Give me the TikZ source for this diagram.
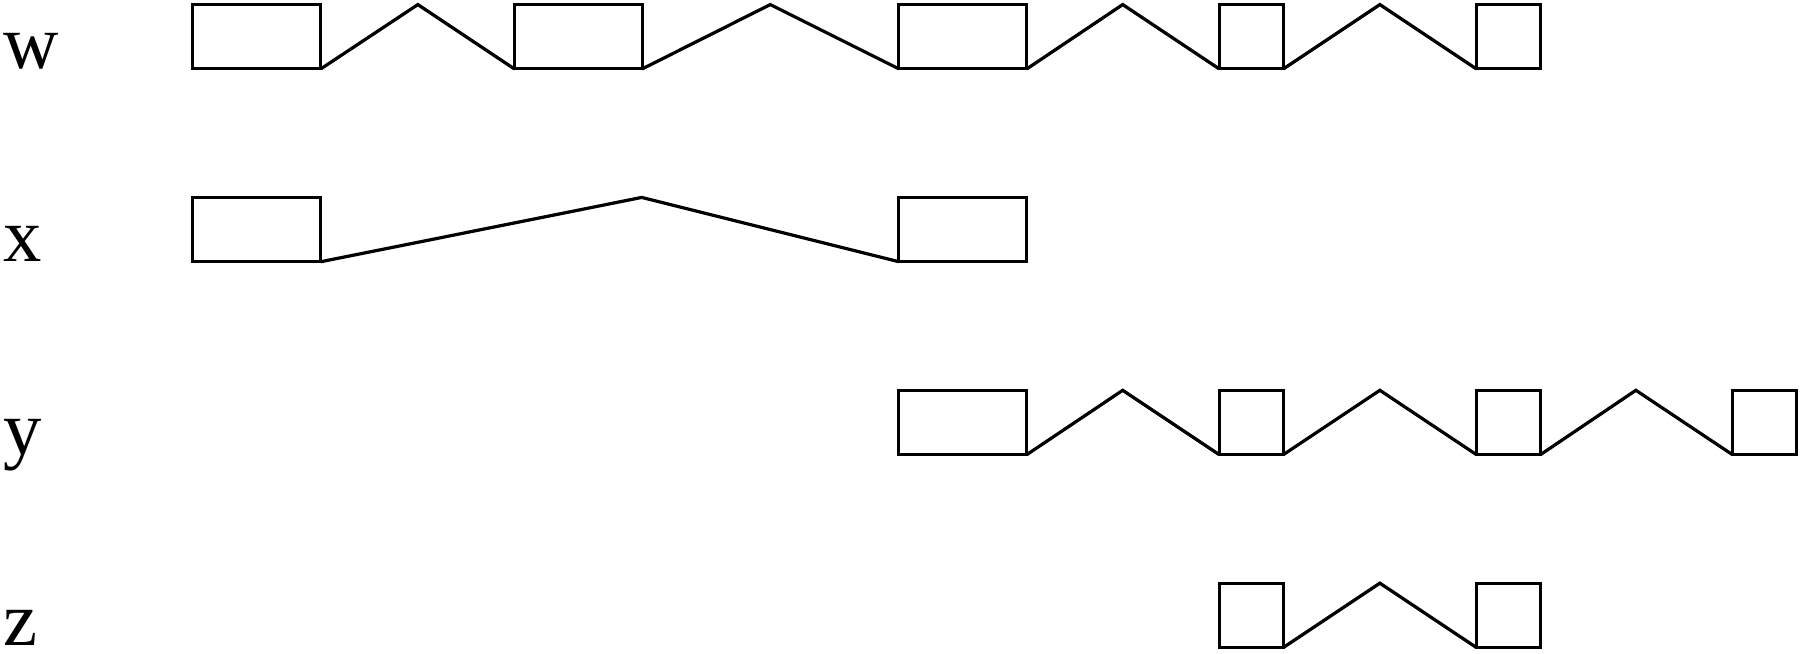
\documentclass[tikz,border=0pt]{standalone}
\usepackage{fontspec}
\setmainfont{Liberation Serif}
\begin{document}
\begin{tikzpicture}[line width=0.8pt,
  exon/.style={draw, rectangle, inner sep=0pt, outer sep=0pt, anchor=south west, minimum height=0.56cm},
  wide/.style={exon, minimum width=1.115cm},
  narrow/.style={exon, minimum width=0.56cm},
  lab/.style={anchor=base west, inner sep=0pt, font=\fontsize{19}{20}\selectfont}]
\useasboundingbox (0,0) rectangle (15.68,5.69);
% row w
\node[lab] (lw) at (0.02,5.09) {w};
\node[wide] (w1) at (1.68,5.09) {};
\node[wide] (w2) at (4.48,5.09) {};
\node[wide] (w3) at (7.83,5.09) {};
\node[narrow] (w4) at (10.62,5.09) {};
\node[narrow] (w5) at (12.86,5.09) {};
\coordinate (pw1) at (3.64,5.65);
\coordinate (pw2) at (6.71,5.65);
\coordinate (pw3) at (9.78,5.65);
\coordinate (pw4) at (12.02,5.65);
\draw (w1.south east) -- (pw1) -- (w2.south west);
\draw (w2.south east) -- (pw2) -- (w3.south west);
\draw (w3.south east) -- (pw3) -- (w4.south west);
\draw (w4.south east) -- (pw4) -- (w5.south west);
% row x
\node[lab] (lx) at (0.02,3.41) {x};
\node[wide] (x1) at (1.68,3.41) {};
\node[wide] (x2) at (7.83,3.41) {};
\coordinate (px1) at (5.59,3.97);
\draw (x1.south east) -- (px1) -- (x2.south west);
% row y
\node[lab] (ly) at (0.02,1.73) {y};
\node[wide] (y1) at (7.83,1.73) {};
\node[narrow] (y2) at (10.62,1.73) {};
\node[narrow] (y3) at (12.86,1.73) {};
\node[narrow] (y4) at (15.09,1.73) {};
\coordinate (py1) at (9.78,2.29);
\coordinate (py2) at (12.02,2.29);
\coordinate (py3) at (14.25,2.29);
\draw (y1.south east) -- (py1) -- (y2.south west);
\draw (y2.south east) -- (py2) -- (y3.south west);
\draw (y3.south east) -- (py3) -- (y4.south west);
% row z
\node[lab] (lz) at (0.02,0.07) {z};
\node[narrow] (z1) at (10.62,0.05) {};
\node[narrow] (z2) at (12.86,0.05) {};
\coordinate (pz1) at (12.02,0.61);
\draw (z1.south east) -- (pz1) -- (z2.south west);
\end{tikzpicture}
\end{document}
